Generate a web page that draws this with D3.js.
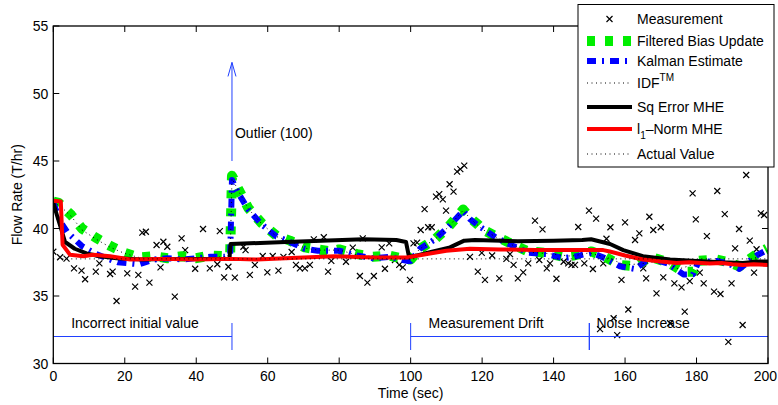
<!DOCTYPE html>
<html>
<head>
<meta charset="utf-8">
<script src="https://cdn.jsdelivr.net/npm/d3@7"></script>
<style>
  html, body { margin: 0; padding: 0; background: #fff; }
  svg { display: block; font-family: "Liberation Sans", Arial, Helvetica, sans-serif; }
</style>
</head>
<body>
<svg id="chart" width="778" height="405"></svg>
<script>
// ---------------- DATA ----------------
const xTicks = [0, 20, 40, 60, 80, 100, 120, 140, 160, 180, 200];
const yTicks = [30, 35, 40, 45, 50, 55];
const xLabel = "Time (sec)";
const yLabel = "Flow Rate (T/hr)";

// Measurements (time, value)
const measT = [0,1.9,3.7,5.8,7.9,8.9,11.9,12.9,15.9,16.6,17.7,20.7,22.9,23.8,24.9,25.9,26.9,28.9,30.0,30.8,31.9,34.0,35.9,36.9,39.7,
  41.9,43.8,45.9,46.6,47.8,49.0,50.8,53.2,53.8,55.0,56.4,58.6,59.9,61.4,63.0,64.4,66.7,67.9,69.0,70.4,71.8,72.9,75.7,76.9,77.8,
  81.9,83.8,85.8,86.6,87.9,89.7,91.9,92.8,94.0,95.6,96.8,97.8,99.8,100.8,101.8,102.8,103.9,104.9,105.9,107.1,108.0,109.0,109.9,
  110.9,112.0,113.0,113.9,115.0,116.6,118.8,119.9,120.8,122.8,124.8,126.8,127.8,128.8,130.0,131.5,132.9,134.8,136.0,136.9,138.1,
  139.0,140.8,142.8,144.1,145.0,146.0,146.9,148.6,149.9,151.0,151.9,153.0,153.9,154.8,155.9,156.8,157.8,159.0,160.0,160.9,162.8,
  164.0,165.1,165.9,166.8,167.9,168.8,170.0,170.7,172.6,173.8,175.8,176.7,178.1,178.9,179.8,180.9,182.0,182.9,184.9,185.8,186.7,
  187.9,188.9,189.8,190.8,191.9,192.9,193.9,194.9,196.1,196.8,198.0,198.9];
const measV = [38.28,37.87,37.77,37.05,36.88,36.24,36.8,37.42,36.63,36.8,34.63,36.68,35.69,36.56,39.69,39.76,35.99,38.78,37.12,39.02,38.65,34.95,39.27,38.4,37.02,
  39.96,37.05,37.35,39.81,36.38,37.17,36.36,38.65,38.4,36.56,37.3,37.96,36.75,37.96,36.88,37.9,38.26,37.3,37.05,37.05,37.3,39.2,39.35,36.8,37.6,
  37.54,38.58,36.48,39.27,35.99,36.48,38.6,37.02,38.9,37.67,37.3,37.12,36.19,38.9,38.95,39.89,41.44,40.09,40.09,42.36,42.55,42.16,41.32,
  43.28,42.73,44.21,44.4,44.66,37.9,36.8,38.2,36.2,38.0,36.31,37.75,38.1,37.3,36.31,36.75,37.42,40.58,37.67,39.94,37.05,
  37.42,36.28,37.54,37.42,37.3,37.3,40.11,37.42,41.32,37.0,40.73,32.55,37.42,39.24,40.09,33.35,32.1,36.19,40.45,34.0,39.15,
  39.64,37.05,36.31,40.87,39.89,35.2,40.09,36.38,32.98,35.94,35.64,33.84,36.1,42.6,40.68,36.73,35.94,39.44,35.32,42.78,35.15,
  41.07,31.6,35.94,38.53,39.96,32.85,43.96,39.1,36.73,38.46,41.12,41.0];

// Filtered Bias Update
const fbuT = [0,1.5,3,5,8,12,16,20,24,28,32,36,40,44,48,49.5,50,52,54.6,58.3,62.5,66.2,70.4,74,78,80,85,89.5,94,99,100,
  102.6,106.8,110.5,114.7,116.6,119,120.3,124,128.7,132.9,138,142.7,145.5,149,150.6,154.4,158.6,162.8,167,172,176.3,179,180.5,185.6,189,192,196.8,199.7];
const fbuV = [42.0,41.9,41.5,41.0,40.0,39.3,38.7,38.2,37.85,37.95,37.8,37.95,37.8,38.0,37.95,38.2,43.9,42.8,41.5,40.4,39.45,39.1,38.6,38.45,38.3,38.45,38.1,37.9,38.0,37.7,37.7,
  38.5,39.2,40.1,41.4,40.8,40.25,39.9,39.4,38.8,38.3,38.2,37.9,38.0,38.2,38.3,37.9,37.3,37.2,37.9,37.5,36.8,36.8,37.6,37.7,37.5,37.2,38.1,38.5];

// Kalman Estimate
const kalT = [0,2,4,8,12,18,24,28,32,36,40,44,48,49.5,50,51.8,54.6,58.3,62.5,66.2,70.4,74,80,85,89.5,94,99,100,
  102.6,106.8,110.5,114.7,116.6,119,124,128.7,133,138,142.7,145.5,150.6,154.4,158.6,162.8,167,172,176.3,179,180.5,185.6,189,192,196.8,199.7];
const kalV = [41.9,40.5,39.7,38.7,38.1,37.5,37.35,37.7,37.8,37.7,37.8,37.9,37.9,38.1,43.6,42.6,41.4,40.3,39.4,39.0,38.5,38.35,38.35,38.0,37.8,37.9,37.6,37.6,
  38.5,39.2,40.1,41.3,40.7,40.2,39.3,38.7,38.2,38.1,37.8,37.9,38.2,37.8,37.2,37.0,37.8,37.4,36.6,36.6,37.5,37.6,37.4,37.0,38.0,38.4];

// IDF(TM)
const idfT = [0,3,5,8,12,16,20,24,30,40,48,49.5,50,52,54.6,58.3,62.5,66.2,70.4,74,80,85,90,95,100,
  102.6,106.8,110.5,114.7,116.6,120,124,128.7,133,138,145,150,155,160,165,170,175,180,185,190,195,200];
const idfV = [42.0,41.4,40.9,39.9,39.2,38.6,38.15,37.85,37.85,37.8,37.9,38.1,43.7,42.7,41.45,40.35,39.4,39.05,38.55,38.4,38.4,38.05,37.9,37.95,37.7,
  38.5,39.2,40.1,41.35,40.75,39.95,39.35,38.75,38.25,38.15,37.95,38.2,37.85,37.3,37.4,37.6,37.0,37.4,37.6,37.3,37.6,38.4];

// Sq Error MHE
const sqT = [0,1,3.3,6,9.3,13,17.7,25,35,45,49.3,49.6,55,65,75,86.7,96,98.7,99.5,101,105.4,111,115,118,130,140,148,150.5,155.8,159.5,165,172.6,180,187,193,197,200];
const sqV = [41.9,41.0,39.0,38.5,38.15,37.95,37.8,37.7,37.75,37.75,37.75,38.85,38.9,39.0,39.1,39.2,39.15,39.0,37.95,37.95,38.25,38.6,39.1,39.15,39.05,39.1,39.15,39.2,38.85,38.4,37.95,37.7,37.6,37.5,37.45,37.55,37.55];

// l1-Norm MHE
const l1T = [0,2.1,2.6,4.7,8.4,11.2,15.9,21.5,30,40,50,57,65,70,78.8,90,98.9,105.4,110,116.6,125,135,145,153.9,155.7,160,165,170,174.4,178,183.7,187,190,193,196,200];
const l1V = [42.05,42.0,38.8,38.05,37.95,38.05,37.95,37.7,37.75,37.7,37.75,37.7,37.8,37.85,37.95,37.85,37.85,38.15,38.35,38.5,38.45,38.4,38.4,38.4,38.3,38.0,37.7,37.55,37.45,37.5,37.4,37.45,37.35,37.3,37.35,37.3];

// Actual value
const actT = [0, 200];
const actV = [37.75, 37.75];

// Annotations: ranges (start, end) at y-level, labels
const rangeStart = [0, 100, 150];
const rangeEnd = [50, 150, 200];
const rangeLabels = ["Incorrect initial value", "Measurement Drift", "Noise Increase"];
const rangeLabelT = [5, 105, 152];
const rangeY = 32;
const outlierT = 50, outlierFrom = 45, outlierTo = 52.3;
const outlierLabel = "Outlier (100)";
const outlierLabelV = 46.7;

const legendNames = ["Measurement", "Filtered Bias Update", "Kalman Estimate", "IDF", "Sq Error MHE", "l", "Actual Value"];

// ---------------- DRAW ----------------
const svg = d3.select("#chart");
const L = 53.3, R = 768, T = 26, B = 363.5;
const x = d3.scaleLinear().domain([0, 200]).range([L, R]);
const y = d3.scaleLinear().domain([30, 55]).range([B, T]);

svg.append("rect").attr("width", 778).attr("height", 405).attr("fill", "#fff");

svg.append("defs").append("clipPath").attr("id", "clip")
  .append("rect").attr("x", L).attr("y", T).attr("width", R - L).attr("height", B - T);

const plot = svg.append("g").attr("clip-path", "url(#clip)");

// measurements
const mk = plot.append("g").attr("stroke", "#000").attr("stroke-width", 1.2);
measT.forEach((t, i) => {
  const cx = x(t), cy = y(measV[i]), s = 3;
  mk.append("path").attr("d", `M${cx - s},${cy - s}L${cx + s},${cy + s}M${cx - s},${cy + s}L${cx + s},${cy - s}`);
});

const line = d3.line();
function series(ts, vs, style) {
  const pts = ts.map((t, i) => [x(t), y(vs[i])]);
  const p = plot.append("path").attr("d", line(pts)).attr("fill", "none")
    .attr("stroke", style.color).attr("stroke-width", style.width)
    .attr("stroke-linejoin", "round");
  if (style.dash) p.attr("stroke-dasharray", style.dash);
  return p;
}
const styles = {
  fbu: { color: "#00ee00", width: 10, dash: "8,10" },
  kal: { color: "#0000ff", width: 6, dash: "9,6,2,6" },
  idf: { color: "#000", width: 1, dash: "1,3.5" },
  sq: { color: "#000", width: 4 },
  l1: { color: "#ff0000", width: 4 },
  act: { color: "#000", width: 1, dash: "1,3.5" }
};
series(fbuT, fbuV, styles.fbu);
series(kalT, kalV, styles.kal);
series(idfT, idfV, styles.idf);
series(sqT, sqV, styles.sq);
series(l1T, l1V, styles.l1);
series(actT, actV, styles.act);

// annotations
const ann = svg.append("g").attr("stroke", "#2040ff").attr("stroke-width", 1).attr("fill", "none");
rangeStart.forEach((s, i) => {
  ann.append("line").attr("x1", x(s)).attr("x2", x(rangeEnd[i])).attr("y1", y(rangeY)).attr("y2", y(rangeY));
  [s, rangeEnd[i]].forEach(t => {
    if (t === 0 || t === 200) return;
    ann.append("line").attr("x1", x(t)).attr("x2", x(t)).attr("y1", y(rangeY + 1)).attr("y2", y(rangeY - 1));
  });
});
// outlier arrow
ann.append("line").attr("x1", x(outlierT)).attr("x2", x(outlierT)).attr("y1", y(outlierFrom)).attr("y2", y(outlierTo));
ann.append("path").attr("d", `M${x(outlierT) - 4},${y(outlierTo) + 14}L${x(outlierT)},${y(outlierTo)}L${x(outlierT) + 4},${y(outlierTo) + 14}`);

const txt = svg.append("g").attr("font-size", 14).attr("fill", "#000");
rangeLabels.forEach((lab, i) => {
  txt.append("text").attr("x", x(rangeLabelT[i])).attr("y", y(rangeY + 0.62)).text(lab);
});
txt.append("text").attr("x", x(outlierT) + 3).attr("y", y(outlierLabelV)).text(outlierLabel);

// axes
const ax = svg.append("g").attr("stroke", "#000").attr("fill", "none");
ax.append("rect").attr("x", L).attr("y", T).attr("width", R - L).attr("height", B - T).attr("stroke-width", 1.3);
xTicks.forEach(t => {
  ax.append("line").attr("x1", x(t)).attr("x2", x(t)).attr("y1", B).attr("y2", B - 6);
  ax.append("line").attr("x1", x(t)).attr("x2", x(t)).attr("y1", T).attr("y2", T + 6);
});
yTicks.forEach(v => {
  ax.append("line").attr("x1", L).attr("x2", L + 6).attr("y1", y(v)).attr("y2", y(v));
  ax.append("line").attr("x1", R).attr("x2", R - 6).attr("y1", y(v)).attr("y2", y(v));
});
const tl = svg.append("g").attr("font-size", 14).attr("fill", "#000");
xTicks.forEach((t, i) => {
  const last = i === xTicks.length - 1;
  tl.append("text").attr("x", last ? 777 : x(t)).attr("y", B + 17)
    .attr("text-anchor", last ? "end" : "middle").text(t);
});
yTicks.forEach(v => {
  tl.append("text").attr("x", L - 5).attr("y", y(v) + 5).attr("text-anchor", "end").text(v);
});
tl.append("text").attr("x", (L + R) / 2).attr("y", 398).attr("text-anchor", "middle").text(xLabel);
tl.append("text").attr("transform", `translate(22,${(T + B) / 2}) rotate(-90)`).attr("text-anchor", "middle").text(yLabel);

// legend
const lg = svg.append("g");
lg.append("rect").attr("x", 578).attr("y", 4.5).attr("width", 196).attr("height", 162.5)
  .attr("fill", "#fff").attr("stroke", "#000").attr("stroke-width", 1);
const rowY = [19, 41, 61, 83, 107, 129, 154];
const lx1 = 587, lx2 = 632, tx = 637;
{
  const cx = (lx1 + lx2) / 2, cy = rowY[0], s = 3;
  lg.append("path").attr("d", `M${cx - s},${cy - s}L${cx + s},${cy + s}M${cx - s},${cy + s}L${cx + s},${cy - s}`)
    .attr("stroke", "#000").attr("stroke-width", 1.2);
}
const legStyles = [null, styles.fbu, styles.kal, styles.idf, styles.sq, styles.l1, styles.act];
legStyles.forEach((st, i) => {
  if (!st) return;
  const p = lg.append("line").attr("x1", lx1).attr("x2", lx2).attr("y1", rowY[i]).attr("y2", rowY[i])
    .attr("stroke", st.color).attr("stroke-width", st.width);
  if (st.dash) p.attr("stroke-dasharray", st.dash);
});
const lt = lg.append("g").attr("font-size", 14).attr("fill", "#000");
legendNames.forEach((n, i) => {
  const t = lt.append("text").attr("x", tx).attr("y", rowY[i] + 5);
  if (i === 3) {
    t.append("tspan").text("IDF");
    t.append("tspan").attr("font-size", 10).attr("dy", -7).text("TM");
  } else if (i === 5) {
    t.append("tspan").text("l");
    t.append("tspan").attr("font-size", 10).attr("dy", 5).text("1");
    t.append("tspan").attr("dy", -5).text("\u2013Norm MHE");
  } else {
    t.text(n);
  }
});
</script>
</body>
</html>
